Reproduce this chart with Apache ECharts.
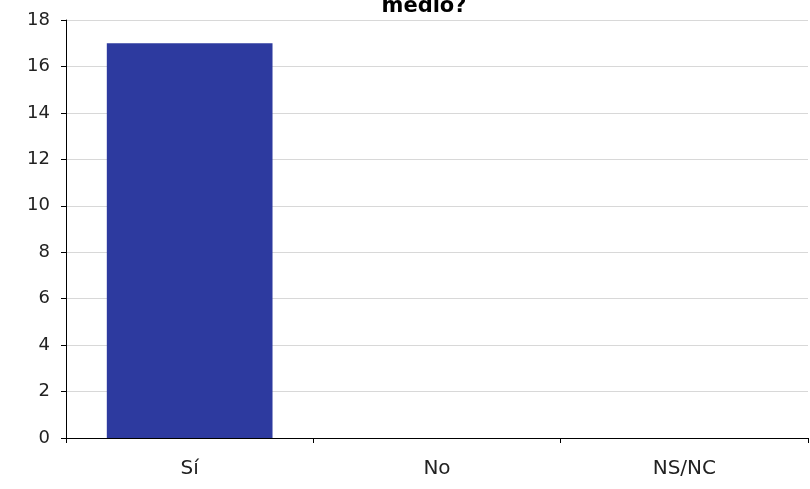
<!DOCTYPE html>
<html>
<head>
<meta charset="utf-8">
<script src="https://cdn.jsdelivr.net/npm/echarts@6/dist/echarts.min.js"></script>
<style>
  html, body { margin: 0; padding: 0; background: #fff; }
  #chart { width: 810px; height: 489px; }
</style>
</head>
<body>
<div id="chart"></div>
<script>
// Answer categories and response counts
const categories = ['Sí', 'No', 'NS/NC'];
const counts = [17, 0, 0];
const titleText = 'medio?';

const chart = echarts.init(document.getElementById('chart'));
chart.setOption({
  animation: false,
  backgroundColor: '#ffffff',
  title: {
    text: titleText,
    left: 419,
    top: -9,
    textAlign: 'center',
    textStyle: { fontFamily: 'DejaVu Sans', fontSize: 21, fontWeight: 'bold', color: '#000' }
  },
  grid: { left: 66, right: 2, top: 20, bottom: 51, containLabel: false },
  xAxis: {
    type: 'category',
    data: categories,
    axisLine: { lineStyle: { color: '#000', width: 1 } },
    axisTick: { show: true, alignWithLabel: false, length: 5, lineStyle: { color: '#000' } },
    axisLabel: { fontFamily: 'DejaVu Sans', fontSize: 20, color: '#222', margin: 21 }
  },
  yAxis: {
    type: 'value',
    min: 0,
    max: 18,
    interval: 2,
    axisLine: { show: true, lineStyle: { color: '#000', width: 1 } },
    axisTick: { show: true, length: 5, lineStyle: { color: '#000' } },
    axisLabel: { fontFamily: 'DejaVu Sans', fontSize: 18, color: '#222', margin: 16 },
    splitLine: { show: true, lineStyle: { color: '#d8d8d8', width: 1 } }
  },
  series: [{
    type: 'bar',
    data: counts,
    barWidth: '67%',
    itemStyle: { color: '#2d3a9f', borderWidth: 0 }
  }]
});
</script>
</body>
</html>
